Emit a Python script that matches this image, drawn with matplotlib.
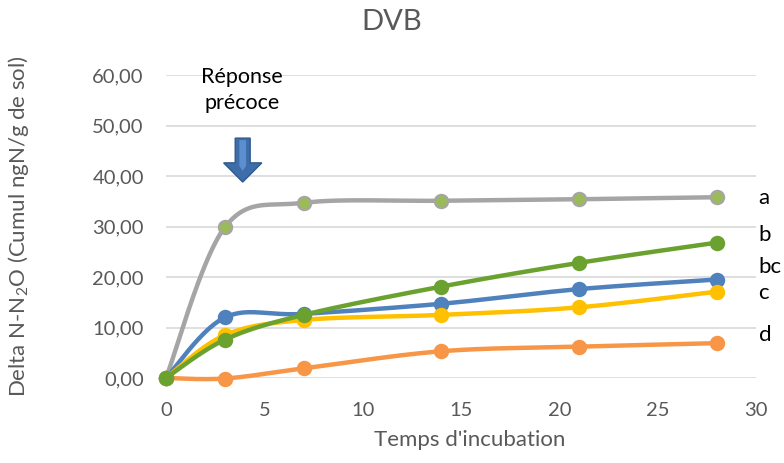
import numpy as np
import matplotlib
matplotlib.use("Agg")
import matplotlib.pyplot as plt
from matplotlib.patches import Polygon

plt.rcParams['font.family'] = ['Lato', 'DejaVu Sans']
plt.rcParams['mathtext.default'] = 'regular'

# Incubation days and cumulative N2O per treatment
days = [0, 3, 7, 14, 21, 28]
serie_a = [0.0, 29.9, 34.7, 35.1, 35.4, 35.8]
serie_b = [0.0, 7.6, 12.5, 18.1, 22.8, 26.8]
serie_bc = [0.0, 12.0, 12.7, 14.7, 17.6, 19.5]
serie_c = [0.0, 8.5, 11.5, 12.5, 14.0, 17.1]
serie_d = [0.0, -0.1, 1.9, 5.3, 6.2, 6.9]

groups = ["a", "b", "bc", "c", "d"]
group_y = [35.7, 28.3, 22.0, 16.9, 8.5]

y_ticks = [0, 10, 20, 30, 40, 50, 60]
x_ticks = [0, 5, 10, 15, 20, 25, 30]


def smooth(xs, ys, n=40):
    """Piecewise cubic Bezier through the points (Catmull-Rom style)."""
    p = np.column_stack([xs, ys]).astype(float)
    m = len(p)
    out = [p[0]]
    t = np.linspace(0, 1, n)[1:, None]
    for i in range(m - 1):
        p0 = p[i - 1] if i > 0 else p[i]
        p1 = p[i]
        p2 = p[i + 1]
        p3 = p[i + 2] if i + 2 < m else p[i + 1]
        c1 = p1 + (p2 - p0) / 6.0
        c2 = p2 - (p3 - p1) / 6.0
        seg = ((1 - t) ** 3) * p1 + 3 * ((1 - t) ** 2) * t * c1 \
            + 3 * (1 - t) * t ** 2 * c2 + t ** 3 * p2
        out.extend(seg)
    out = np.array(out)
    return out[:, 0], out[:, 1]


fig = plt.figure(figsize=(7.84, 4.63), dpi=100)
ax = fig.add_axes([166 / 784, 1 - 378 / 463, 590 / 784, 303 / 463])

ax.set_xlim(0, 30)
ax.set_ylim(0, 60)
ax.set_yticks(y_ticks)
ax.set_xticks(x_ticks)
ax.set_yticklabels([f"{v:.2f}".replace(".", ",") for v in y_ticks])
ax.set_xticklabels([str(v) for v in x_ticks])
ax.grid(axis='y', color='#D9D9D9', linewidth=1.2)
ax.set_axisbelow(True)
for s in ax.spines.values():
    s.set_visible(False)
ax.tick_params(axis='both', length=0, labelsize=14.5, colors='#595959')
ax.tick_params(axis='x', pad=17)
ax.tick_params(axis='y', pad=16)

lw = 3.2
ms = 9.5
series = [
    (serie_a, '#A5A5A5', '#9BBB59', '#A5A5A5'),
    (serie_d, '#F79646', '#F79646', '#F79646'),
    (serie_bc, '#4F81BD', '#4F81BD', '#4F81BD'),
    (serie_c, '#FFC000', '#FFC000', '#FFC000'),
    (serie_b, '#6AA12F', '#6AA12F', '#6AA12F'),
]
for z, (vals, lc, mf, me) in enumerate(series):
    sx, sy = smooth(days, vals)
    ax.plot(sx, sy, color=lc, linewidth=lw, solid_capstyle='round',
            zorder=3 + z, clip_on=False)
    ax.plot(days, vals, linestyle='none', marker='o', markersize=ms,
            markerfacecolor=mf, markeredgecolor=me, markeredgewidth=1.6,
            zorder=3 + z, clip_on=False)

for g, gy in zip(groups, group_y):
    ax.text(30.13, gy, g, fontsize=16, color='black', va='center',
            ha='left', clip_on=False)

# "early response" arrow and caption
xc = 3.9
top, neck, tip = 47.5, 42.6, 38.8
hs, hh = 0.38, 0.97
arrow = Polygon([(xc - hs, top), (xc + hs, top), (xc + hs, neck),
                 (xc + hh, neck), (xc, tip), (xc - hh, neck),
                 (xc - hs, neck)], closed=True, facecolor='#3E6DAA',
                edgecolor='#2E5A8E', linewidth=1.0, zorder=10)
ax.add_patch(arrow)
inner = Polygon([(xc - hs * 0.45, top - 0.4), (xc + hs * 0.45, top - 0.4),
                 (xc + hs * 0.45, neck - 0.6), (xc, neck - 1.6),
                 (xc - hs * 0.45, neck - 0.6)], closed=True,
                facecolor='#5B8FD0', edgecolor='none', zorder=11)
ax.add_patch(inner)
ax.text(3.85, 59.7, "Réponse", fontsize=15.5, ha='center', va='center',
        color='black', zorder=12)
ax.text(3.85, 54.4, "précoce", fontsize=15.5, ha='center', va='center',
        color='black', zorder=12)

ax.set_xlabel("Temps d'incubation", fontsize=16, color='#595959')
ax.xaxis.set_label_coords(0.515, -0.172)
ax.set_ylabel("Delta N-N$_2$O (Cumul ngN/g de sol)", fontsize=16,
              color='#595959')
ax.yaxis.set_label_coords(-0.228, 0.5)

fig.text(0.5, 1 - 22 / 463, "DVB", fontsize=21, color='#595959',
         ha='center', va='center')

fig.savefig("out.png", dpi=100)
